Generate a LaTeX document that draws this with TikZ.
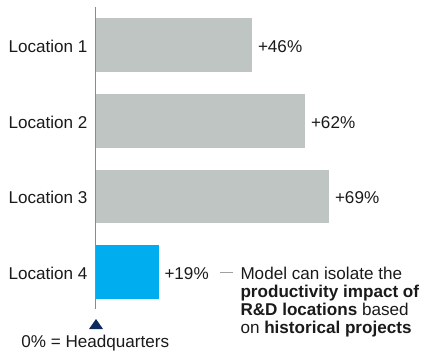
\documentclass[tikz,border=0pt]{standalone}
\usepackage{fontspec}
\setmainfont{Liberation Sans}
\definecolor{bargray}{HTML}{BFC5C3}
\definecolor{barblue}{HTML}{00AEEF}
\definecolor{axisgray}{HTML}{8A8A8A}
\definecolor{dashgray}{HTML}{A0A0A0}
\definecolor{navy}{HTML}{0B2B5C}
\definecolor{txt}{HTML}{1A1A1A}
\begin{document}
\begin{tikzpicture}[x=1pt,y=-1pt,
  every node/.style={inner sep=0pt,outer sep=0pt,text=txt,font=\fontsize{17.1}{18}\selectfont},
  lbl/.style={anchor=base east},
  val/.style={anchor=base west},
  ann/.style={anchor=base west},
  graybar/.style={fill=bargray,draw=none},
  bluebar/.style={fill=barblue,draw=none}]
\useasboundingbox (0,0) rectangle (422,352);
% bars
\fill[graybar] (96,18) rectangle (252,72);
\fill[graybar] (96,94) rectangle (305,148);
\fill[graybar] (96,170) rectangle (328.5,223);
\fill[bluebar] (96,245) rectangle (158.5,299);
% axis
\coordinate (axtop) at (95.3,7);
\coordinate (axbot) at (95.3,309);
\draw[axisgray,line width=1.1pt] (axtop) -- (axbot);
% labels
\node[lbl] (l1) at (87.5,52.5) {Location 1};
\node[lbl] (l2) at (87.5,128.5) {Location 2};
\node[lbl] (l3) at (87.5,204) {Location 3};
\node[lbl] (l4) at (87.5,279.5) {Location 4};
% values
\node[val] (v1) at (258,52.5) {+46\%};
\node[val] (v2) at (311,128.5) {+62\%};
\node[val] (v3) at (335,204) {+69\%};
\node[val] (v4) at (164.5,279.5) {+19\%};
% annotation
\node[ann] (a1) at (240.5,279.5) {Model can isolate the};
\node[ann] (a2) at (240.5,297.5) {\textbf{productivity impact of}};
\node[ann] (a3) at (240.5,315.5) {\textbf{R\&D locations} based};
\node[ann] (a4) at (240.5,333) {on \textbf{historical projects}};
\coordinate (d1) at (220,272.3);
\coordinate (d2) at (233.3,272.3);
\draw[dashgray,line width=0.9pt] (d1) -- (d2);
% headquarters marker
\fill[navy] (89,329) -- (96,319) -- (103,329) -- cycle;
\node[anchor=base] (hq) at (95.3,347.5) {0\% = Headquarters};
\end{tikzpicture}
\end{document}
